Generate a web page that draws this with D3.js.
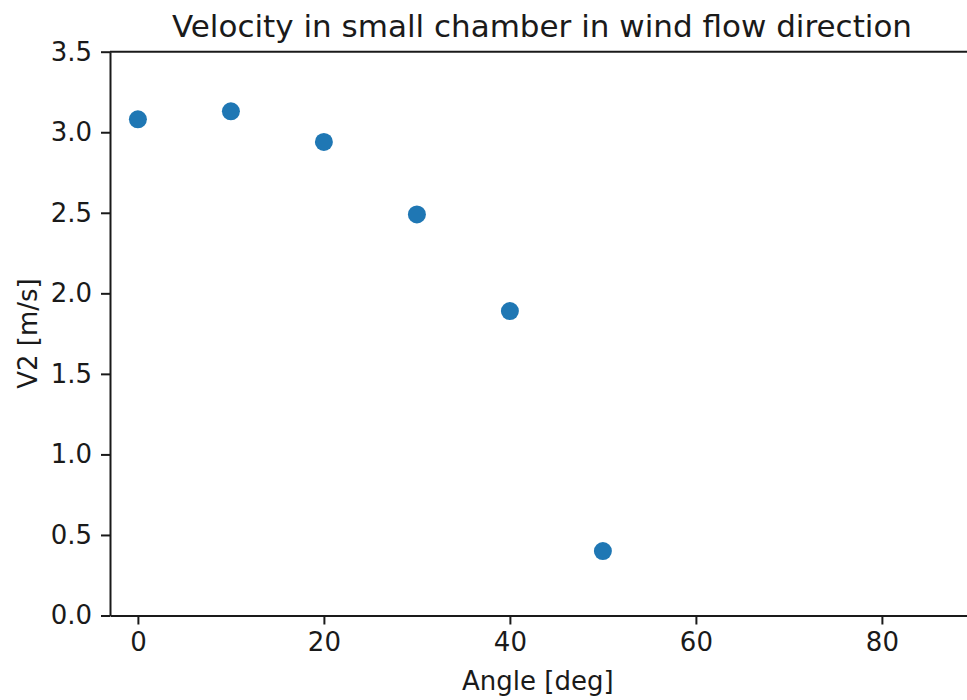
<!DOCTYPE html>
<html>
<head>
<meta charset="utf-8">
<script src="https://cdn.jsdelivr.net/npm/d3@7"></script>
<style>
  html, body { margin: 0; padding: 0; background: #fff; }
  svg { display: block; }
  text { font-family: "DejaVu Sans", sans-serif; fill: #1a1a1a; }
</style>
</head>
<body>
<svg id="chart" width="967" height="700"></svg>
<script>
// Measured velocity V2 at each flap angle
const angles = [0, 10, 20, 30, 40, 50];
const velocities = [3.08, 3.13, 2.94, 2.49, 1.89, 0.40];
const xTicks = [0, 20, 40, 60, 80];
const yTicks = [0.0, 0.5, 1.0, 1.5, 2.0, 2.5, 3.0, 3.5];

const svg = d3.select("#chart");
const plotLeft = 110, plotTop = 51.7, plotBottom = 615.5;
const pxPerDeg = 9.3;

const x = d3.scaleLinear().domain([-3, 90]).range([plotLeft, plotLeft + 93 * pxPerDeg]);
const y = d3.scaleLinear().domain([0, 3.5]).range([plotBottom, plotTop]);

const axisColor = "#1a1a1a";
const tickFont = 26;

// x axis
const gx = svg.append("g")
  .attr("transform", `translate(0,${plotBottom})`)
  .call(d3.axisBottom(x).tickValues(xTicks).tickFormat(d3.format("d")).tickSize(9).tickPadding(8).tickSizeOuter(0));
// y axis
const gy = svg.append("g")
  .attr("transform", `translate(${plotLeft},0)`)
  .call(d3.axisLeft(y).tickValues(yTicks).tickFormat(d3.format(".1f")).tickSize(9).tickPadding(9).tickSizeOuter(0));

[gx, gy].forEach(g => {
  g.selectAll("path.domain").attr("stroke", axisColor).attr("stroke-width", 2);
  g.selectAll(".tick line").attr("stroke", axisColor).attr("stroke-width", 2);
  g.selectAll(".tick text").attr("font-size", tickFont).attr("font-family", "DejaVu Sans").attr("fill", axisColor);
});

// top and right spines
svg.append("line")
  .attr("x1", plotLeft).attr("x2", x(90)).attr("y1", plotTop).attr("y2", plotTop)
  .attr("stroke", axisColor).attr("stroke-width", 2);
svg.append("line")
  .attr("x1", x(90)).attr("x2", x(90)).attr("y1", plotTop).attr("y2", plotBottom)
  .attr("stroke", axisColor).attr("stroke-width", 2);

// points
svg.append("g").selectAll("circle")
  .data(angles.map((a, i) => ({ a, v: velocities[i] })))
  .join("circle")
  .attr("cx", d => x(d.a))
  .attr("cy", d => y(d.v))
  .attr("r", 9)
  .attr("fill", "#1f77b4");

// title
svg.append("text")
  .attr("x", 542)
  .attr("y", 36.5)
  .attr("text-anchor", "middle")
  .attr("font-size", 31)
  .text("Velocity in small chamber in wind flow direction");

// axis labels
svg.append("text")
  .attr("x", x(43))
  .attr("y", 690)
  .attr("text-anchor", "middle")
  .attr("font-size", 26)
  .text("Angle [deg]");

svg.append("text")
  .attr("transform", `translate(37,${(plotTop + plotBottom) / 2}) rotate(-90)`)
  .attr("text-anchor", "middle")
  .attr("font-size", 26)
  .text("V2 [m/s]");
</script>
</body>
</html>
